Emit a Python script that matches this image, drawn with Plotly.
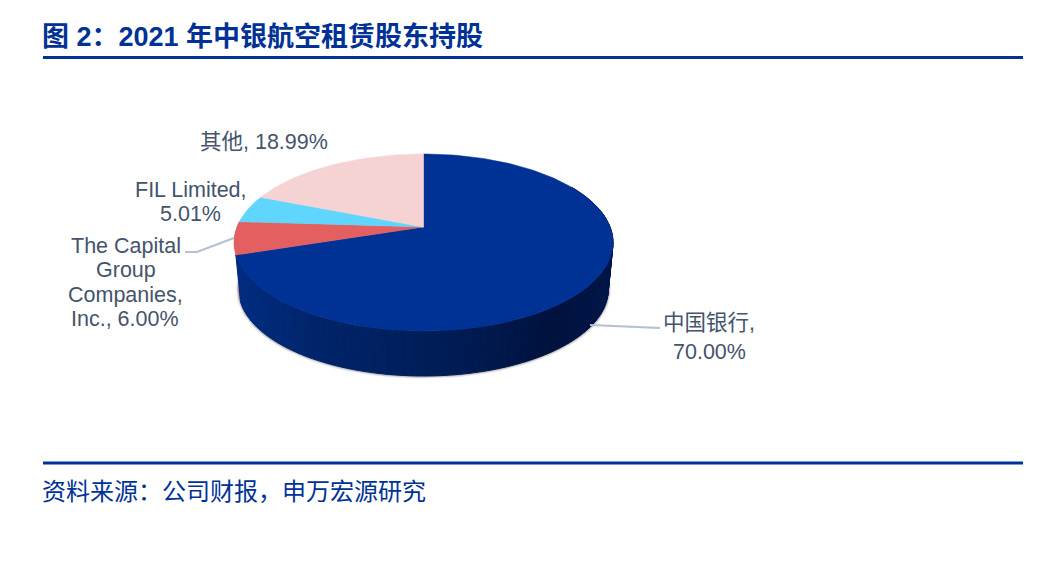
import math
import plotly.graph_objects as go

# Valores (sentido horario a partir do topo)
categorias = ["中国银行", "The Capital Group Companies, Inc.", "FIL Limited", "其他"]
valores = [70.00, 6.00, 5.01, 18.99]
cores = ["#003296", "#E45F60", "#60D5FD", "#F6D3D3"]

titulo = "图 2：2021 年中银航空租赁股东持股"
fonte = "资料来源：公司财报，申万宏源研究"

rotulos = [
    ("其他, 18.99%", 263.5, 142),
    ("FIL Limited,", 190.5, 190),
    ("5.01%", 190.5, 214),
    ("The Capital", 126, 246),
    ("Group", 126, 270),
    ("Companies,", 125, 295),
    ("Inc., 6.00%", 125, 319),
    ("中国银行,", 709, 323),
    ("70.00%", 709, 352),
]

AZUL = "#003296"
CX, CY = 423.5, 227
A, B, K = 186.6, 85.8, 0.175  # perspectiva da elipse
ESCALA_BASE = 0.975
DESLOC_BASE = 47.6

# gradiente da parede lateral (x em pixels, cor)
gradiente = [(236, (0, 44, 128)), (320, (0, 36, 105)), (470, (0, 27, 82)),
             (555, (0, 18, 62)), (610, (0, 22, 72))]


def ponto(theta, base=False):
    t = math.radians(theta)
    d = 1 + K * math.cos(t)
    x = A * math.sin(t) / d
    y = B * math.cos(t) / d
    if base:
        return CX + x * ESCALA_BASE, CY + DESLOC_BASE - y * ESCALA_BASE
    return CX + x, CY - y


def cor_parede(x):
    if x <= gradiente[0][0]:
        c = gradiente[0][1]
    elif x >= gradiente[-1][0]:
        c = gradiente[-1][1]
    else:
        for (x0, c0), (x1, c1) in zip(gradiente, gradiente[1:]):
            if x0 <= x <= x1:
                f = (x - x0) / (x1 - x0)
                c = [c0[i] + (c1[i] - c0[i]) * f for i in range(3)]
                break
    return "rgb(%d,%d,%d)" % tuple(c)


fig = go.Figure()

# angulos acumulados de cada fatia
angulos = [0]
for v in valores:
    angulos.append(angulos[-1] + v * 360 / sum(valores))

# sombra por baixo da parede
arco = [60 + i * 2 for i in range(110)]
xs, ys = zip(*[ponto(t, True) for t in arco])
for largura, op in [(6, 0.08), (4, 0.14), (2.5, 0.22)]:
    fig.add_trace(go.Scatter(x=xs, y=ys, mode="lines",
                             line=dict(color="rgba(70,70,70,%s)" % op, width=largura),
                             hoverinfo="skip"))

# parede vermelha, quase escondida
a0, a1 = angulos[1], angulos[2]
passos = [a0 + (a1 - a0) * i / 10 for i in range(11)]
topo = [ponto(t) for t in passos]
base = [ponto(t, True) for t in reversed(passos)]
fig.add_trace(go.Scatter(x=[p[0] for p in topo + base], y=[p[1] for p in topo + base],
                         mode="lines", fill="toself", fillcolor="#A84448",
                         line=dict(width=0), hoverinfo="skip"))

# parede azul em tiras
passo = 2.0
t = 60.0
while t < angulos[1]:
    t2 = min(t + passo, angulos[1])
    p = [ponto(t), ponto(t2), ponto(t2, True), ponto(t, True)]
    cor = cor_parede((p[0][0] + p[1][0]) / 2)
    fig.add_trace(go.Scatter(x=[q[0] for q in p] + [p[0][0]], y=[q[1] for q in p] + [p[0][1]],
                             mode="lines", fill="toself", fillcolor=cor,
                             line=dict(color=cor, width=1), hoverinfo="skip"))
    t = t2

# face de cima
for i in range(len(valores)):
    a0, a1 = angulos[i], angulos[i + 1]
    n = max(2, int((a1 - a0) / 1.5))
    rim = [ponto(a0 + (a1 - a0) * j / n) for j in range(n + 1)]
    fig.add_trace(go.Scatter(x=[CX] + [p[0] for p in rim] + [CX],
                             y=[CY] + [p[1] for p in rim] + [CY],
                             mode="lines", fill="toself", fillcolor=cores[i],
                             line=dict(color=cores[i], width=0.5),
                             name=categorias[i], hoverinfo="skip"))

# linhas de chamada
fig.add_trace(go.Scatter(x=[590, 628, 660], y=[325, 327, 328], mode="lines",
                         line=dict(color="#B4BFD0", width=2), hoverinfo="skip"))
fig.add_trace(go.Scatter(x=[234, 197, 185], y=[238, 252, 252], mode="lines",
                         line=dict(color="#B4BFD0", width=2), hoverinfo="skip"))

anotacoes = []
for texto, x, y in rotulos:
    anotacoes.append(dict(x=x, y=y, text=texto, showarrow=False, xanchor="center", yanchor="middle",
                          font=dict(family="Liberation Sans, Noto Sans CJK SC", size=21.5, color="#44546A")))
anotacoes.append(dict(x=40, y=37, text="<b>%s</b>" % titulo, showarrow=False, xanchor="left", yanchor="middle",
                      font=dict(family="Liberation Sans, Noto Sans CJK SC", size=27, color=AZUL)))
anotacoes.append(dict(x=40, y=489, text=fonte, showarrow=False, xanchor="left", yanchor="middle",
                      font=dict(family="Noto Sans CJK SC", size=24, color=AZUL)))

fig.update_layout(
    width=1047, height=568,
    margin=dict(l=0, r=0, t=0, b=0),
    paper_bgcolor="white", plot_bgcolor="white",
    showlegend=False,
    xaxis=dict(range=[0, 1047], visible=False, fixedrange=True),
    yaxis=dict(range=[568, 0], visible=False, fixedrange=True),
    annotations=anotacoes,
    shapes=[
        dict(type="line", x0=43, x1=1023, y0=57.5, y1=57.5, xref="x", yref="y", line=dict(color=AZUL, width=3)),
        dict(type="line", x0=43, x1=1023, y0=463, y1=463, xref="x", yref="y", line=dict(color=AZUL, width=3)),
    ],
)

fig.write_html("out.html", config=dict(displayModeBar=False),
               post_script="document.body.style.margin='0';document.body.style.overflow='hidden';")
